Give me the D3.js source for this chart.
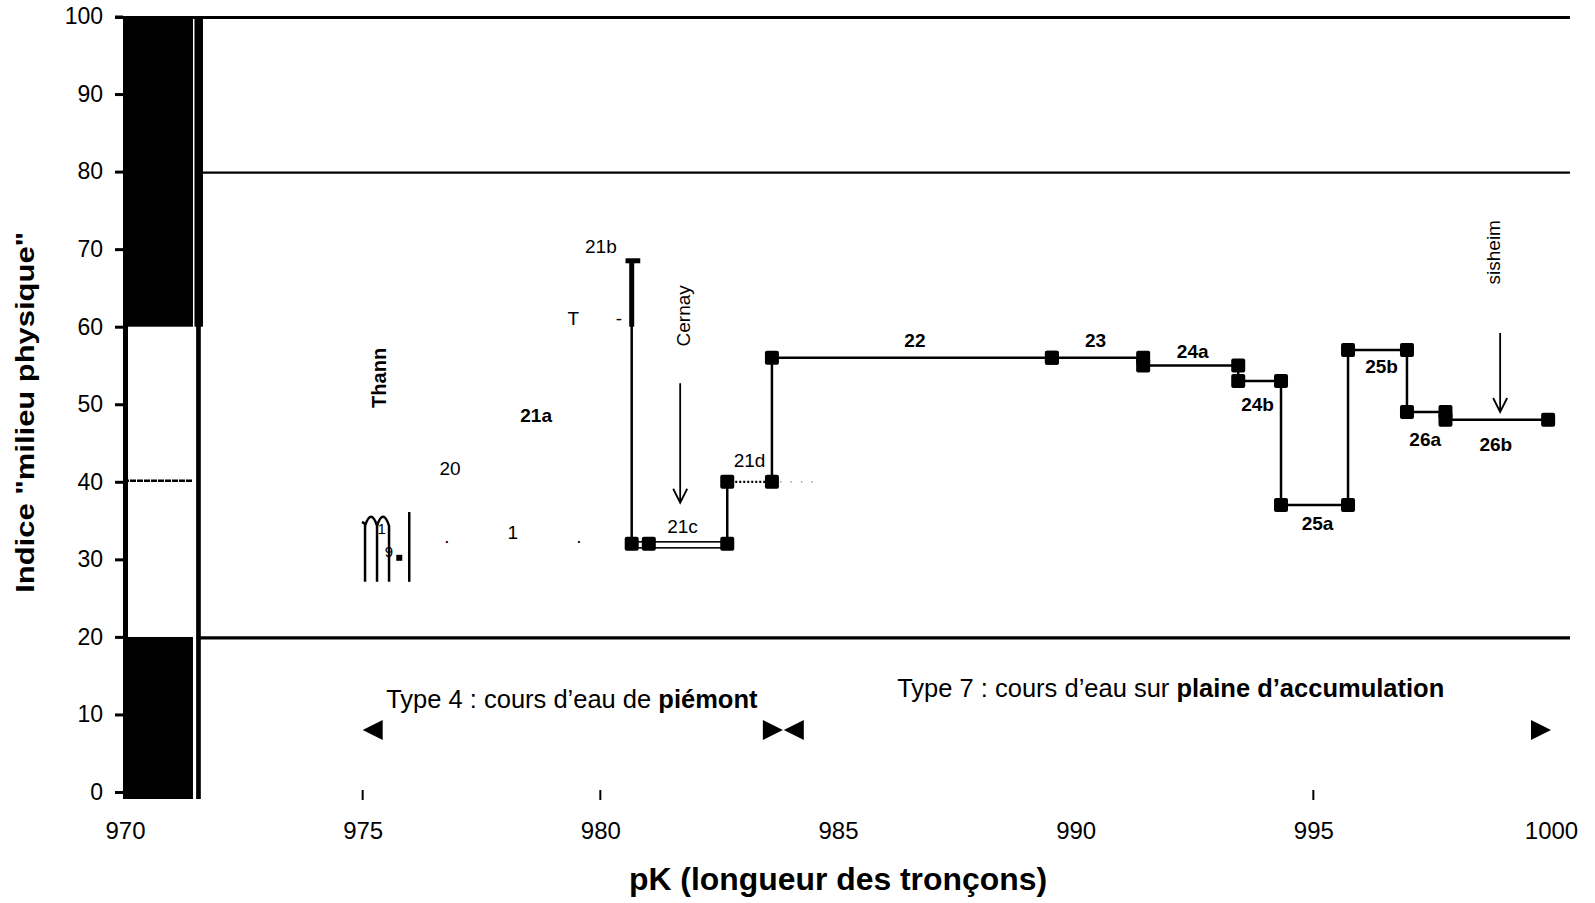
<!DOCTYPE html>
<html>
<head>
<meta charset="utf-8">
<script src="https://cdn.jsdelivr.net/npm/d3@7"></script>
<style>
    body { margin: 0; background: #fff; }
    svg text { font-family: "Liberation Sans", Arial, sans-serif; fill: #000; }
</style>
</head>
<body>
<div id="chart"></div>
<script>
// tronçons (pK de début / fin, indice "milieu physique")
const troncons = ["21b", "21c", "21d", "22", "23", "24a", "24b", "25a", "25b", "26a", "26b"]
const pkStart  = [980.53, 980.66, 982.67, 983.61, 989.50, 991.42, 993.42, 994.32, 995.73, 996.97, 997.78]
const pkEnd    = [980.84, 982.67, 983.61, 989.50, 991.42, 993.42, 994.32, 995.73, 996.97, 997.78, 999.94]
const indice   = [68.5, 32, 40, 56, 56, 55, 53, 37, 57, 49, 48]
// point supplémentaire sur 21c
const extraPk  = [981.02]
const extraVal = [32]

// axes
const xTicks = [970, 975, 980, 985, 990, 995, 1000]
const xTickMarks = [975, 980, 995]
const yTicks = [0, 10, 20, 30, 40, 50, 60, 70, 80, 90, 100]
const gridValues = [100, 80, 20]

// classes de qualité (bande de gauche)
const classLow  = [0, 20, 40, 60]
const classHigh = [20, 40, 60, 100]
const classDark = [true, false, false, true]

// typologie
const typeText  = ["Type 4 : cours d’eau de ", "Type 7 : cours d’eau sur "]
const typeBold  = ["piémont", "plaine d’accumulation"]
const typeStart = [975, 983.86]
const typeEnd   = [983.84, 1000]
const typeLabelPk  = [979.4, 992.0]
const typeLabelVal = [12.0, 13.4]
const arrowLevel = 8

// villes
const towns   = ["Thann", "Cernay", "sisheim"]
const townPk  = [975.35, 981.74, 998.80]
const townVal = [53.4, 61.4, 69.6]
const townArrowPk   = [null, 981.68, 998.93]
const townArrowTop  = [null, 52.7, 59.2]
const townArrowDown = [null, 37.3, 49.0]

// fragments de la partie amont (illisibles)
const scraps   = ["21a", "20", "1", "T", "-", "1", "9", ".", "."]
const scrapPk  = [978.65, 976.84, 978.16, 979.43, 980.39, 975.40, 975.55, 976.77, 979.55]
const scrapVal = [48.6, 41.7, 33.5, 61.0, 61.0, 34.0, 31.0, 32.9, 32.9]

const width = 1595
const height = 903

const x = d3.scaleLinear().domain([970, 1000]).range([125, 1551])
const y = d3.scaleLinear().domain([0, 100]).range([792, 16.5])

const svg = d3.select("#chart")
    .append("svg")
    .attr("width", width)
    .attr("height", height)

svg.append("rect").attr("width", width).attr("height", height).attr("fill", "#fff")

// ---- bande de gauche
const bandX0 = x(970) - 2
const bandX1 = x(971.43)
const lineX = bandX1 + 5.5
const bottom = y(0) + 7

svg.append("g").attr("class", "band")
    .selectAll("rect")
    .data(classLow.map((lo, i) => ({lo, hi: classHigh[i], dark: classDark[i]})))
    .join("rect")
    .attr("x", bandX0)
    .attr("width", bandX1 - bandX0)
    .attr("y", d => y(d.hi))
    .attr("height", d => (d.lo === 0 ? bottom : y(d.lo)) - y(d.hi))
    .attr("fill", d => d.dark ? "#000" : "#fff")

svg.append("line")
    .attr("x1", bandX0 + 2.5).attr("x2", bandX0 + 2.5)
    .attr("y1", y(100)).attr("y2", bottom)
    .attr("stroke", "#000").attr("stroke-width", 5)

svg.append("line")
    .attr("x1", bandX0).attr("x2", bandX1)
    .attr("y1", y(40) - 1).attr("y2", y(40) - 1)
    .attr("stroke", "#000").attr("stroke-width", 2.4)
    .attr("stroke-dasharray", "6,1")

svg.append("line")
    .attr("x1", lineX).attr("x2", lineX)
    .attr("y1", y(100)).attr("y2", bottom)
    .attr("stroke", "#000").attr("stroke-width", 4.7)

svg.append("rect")
    .attr("x", lineX - 4).attr("width", 8.5)
    .attr("y", y(100)).attr("height", y(60) - y(100))
    .attr("fill", "#000")

// ---- lignes de seuil
svg.append("g").attr("class", "grid")
    .selectAll("line")
    .data(gridValues)
    .join("line")
    .attr("x1", d => d === 100 ? x(970) - 10 : lineX)
    .attr("x2", x(1000.4))
    .attr("y1", d => y(d) + 1)
    .attr("y2", d => y(d) + 1)
    .attr("stroke", "#000")
    .attr("stroke-width", d => d === 80 ? 2.2 : 3.2)

// ---- axes
const yAxis = svg.append("g")
    .attr("transform", `translate(${bandX0},0)`)
    .call(d3.axisLeft(y).tickValues(yTicks).tickSize(8).tickPadding(12))
yAxis.select(".domain").remove()
yAxis.selectAll(".tick line").attr("stroke", "#000").attr("stroke-width", 3)
yAxis.selectAll(".tick text")
    .attr("font-family", "Liberation Sans, Arial, sans-serif")
    .attr("font-size", 23).attr("fill", "#000")

const xAxis = svg.append("g")
    .attr("transform", `translate(0,${y(0)})`)
    .call(d3.axisBottom(x).tickValues(xTicks).tickSize(0).tickPadding(30).tickFormat(d3.format("d")))
xAxis.select(".domain").remove()
xAxis.selectAll(".tick text")
    .attr("font-family", "Liberation Sans, Arial, sans-serif")
    .attr("font-size", 24).attr("fill", "#000")

svg.append("g").attr("class", "xmarks")
    .selectAll("line")
    .data(xTickMarks)
    .join("line")
    .attr("x1", d => x(d)).attr("x2", d => x(d))
    .attr("y1", y(0) - 2).attr("y2", y(0) + 8)
    .attr("stroke", "#000").attr("stroke-width", 2)

// ---- titres
svg.append("text")
    .attr("transform", `translate(34,${(y(100) + y(0)) / 2 + 8}) rotate(-90)`)
    .attr("text-anchor", "middle")
    .attr("font-size", 26)
    .attr("font-weight", "bold")
    .attr("textLength", 361)
    .attr("lengthAdjust", "spacingAndGlyphs")
    .text("Indice \"milieu physique\"")

svg.append("text")
    .attr("x", (x(970) + x(1000)) / 2)
    .attr("y", 890)
    .attr("text-anchor", "middle")
    .attr("font-size", 31)
    .attr("font-weight", "bold")
    .attr("textLength", 418)
    .attr("lengthAdjust", "spacingAndGlyphs")
    .text("pK (longueur des tronçons)")

// ---- série
const segments = troncons.map((name, i) => ({name, x0: pkStart[i], x1: pkEnd[i], v: indice[i]}))
const segStyle = {"21b": "cap", "21c": "double", "21d": "dotted"}

const serie = svg.append("g").attr("class", "serie")

// liaisons verticales
serie.selectAll("line.link")
    .data(segments.slice(1).map((d, i) => ({x: d.x0, from: segments[i].v, to: d.v})))
    .join("line")
    .attr("class", "link")
    .attr("x1", d => x(d.x)).attr("x2", d => x(d.x))
    .attr("y1", d => y(d.from)).attr("y2", d => y(d.to))
    .attr("stroke", "#000").attr("stroke-width", 2.5)

serie.append("line")
    .attr("x1", x(pkStart[1])).attr("x2", x(pkStart[1]))
    .attr("y1", y(indice[0])).attr("y2", y(60))
    .attr("stroke", "#000").attr("stroke-width", 5)

// paliers
serie.selectAll("line.seg")
    .data(segments.filter(d => segStyle[d.name] !== "double"))
    .join("line")
    .attr("class", "seg")
    .attr("x1", d => x(d.x0)).attr("x2", d => x(d.x1))
    .attr("y1", d => y(d.v)).attr("y2", d => y(d.v))
    .attr("stroke", "#000")
    .attr("stroke-width", d => segStyle[d.name] === "cap" ? 5 : segStyle[d.name] === "dotted" ? 2.2 : 2.5)
    .attr("stroke-dasharray", d => segStyle[d.name] === "dotted" ? "2,2" : null)

serie.selectAll("rect.double")
    .data(segments.filter(d => segStyle[d.name] === "double"))
    .join("rect")
    .attr("class", "double")
    .attr("x", d => x(d.x0)).attr("width", d => x(d.x1) - x(d.x0))
    .attr("y", d => y(d.v) - 2).attr("height", 6)
    .attr("fill", "#fff").attr("stroke", "#000").attr("stroke-width", 1.6)

serie.append("line")
    .attr("x1", x(pkEnd[2]) + 8).attr("x2", x(984.5))
    .attr("y1", y(indice[2])).attr("y2", y(indice[2]))
    .attr("stroke", "#888").attr("stroke-width", 1.2)
    .attr("stroke-dasharray", "1.5,9")

// marqueurs
const markers = segments.filter(d => segStyle[d.name] !== "cap")
    .flatMap(d => [{pk: d.x0, v: d.v}, {pk: d.x1, v: d.v}])
    .concat(extraPk.map((pk, i) => ({pk, v: extraVal[i]})))

const ms = 14
serie.selectAll("rect.marker")
    .data(markers)
    .join("rect")
    .attr("class", "marker")
    .attr("x", d => x(d.pk) - ms / 2).attr("y", d => y(d.v) - ms / 2)
    .attr("width", ms).attr("height", ms)
    .attr("rx", 2)
    .attr("fill", "#000")

// étiquettes des tronçons
const labelShift = {
    "21b": [-32, -14], "21c": [3, -17], "21d": [0, -21], "22": [3, -17], "23": [-2, -17],
    "24a": [2, -14], "24b": [-2, 24], "25a": [3, 18], "25b": [4, 17], "26a": [-1, 27], "26b": [-1, 24.5]
}
serie.selectAll("text.lab")
    .data(segments)
    .join("text")
    .attr("class", "lab")
    .attr("x", d => x((d.x0 + d.x1) / 2) + labelShift[d.name][0])
    .attr("y", d => y(d.v) + labelShift[d.name][1])
    .attr("text-anchor", "middle")
    .attr("dominant-baseline", "central")
    .attr("font-size", 19)
    .attr("font-weight", d => d.name.startsWith("21") ? "normal" : "bold")
    .text(d => d.name)

// ---- fragments amont
svg.append("g").attr("class", "scraps")
    .selectAll("text")
    .data(scraps.map((t, i) => ({t, pk: scrapPk[i], v: scrapVal[i], i})))
    .join("text")
    .attr("x", d => x(d.pk)).attr("y", d => y(d.v))
    .attr("text-anchor", "middle")
    .attr("dominant-baseline", "central")
    .attr("font-size", d => d.i >= 5 && d.i <= 6 ? 15 : 19)
    .attr("font-weight", d => d.t === "21a" ? "bold" : "normal")
    .text(d => d.t)

const mx = x(975.05)
const my = y(27.1)
const mp = d3.path()
mp.moveTo(mx - 3, my - 60); mp.lineTo(mx, my - 58); mp.lineTo(mx, my)
mp.moveTo(mx, my - 56); mp.quadraticCurveTo(mx + 6, my - 74, mx + 12, my - 56); mp.lineTo(mx + 12, my)
mp.moveTo(mx + 12, my - 56); mp.quadraticCurveTo(mx + 18, my - 74, mx + 24, my - 56); mp.lineTo(mx + 24, my)
svg.append("path").attr("d", mp.toString())
    .attr("fill", "none").attr("stroke", "#000").attr("stroke-width", 2.5)

svg.append("line")
    .attr("x1", x(975.98)).attr("x2", x(975.98))
    .attr("y1", y(36.1)).attr("y2", y(27.1))
    .attr("stroke", "#000").attr("stroke-width", 2.5)
svg.append("rect")
    .attr("x", x(975.77) - 3).attr("y", y(30.2) - 3)
    .attr("width", 6).attr("height", 6).attr("fill", "#000")

// ---- villes
svg.append("g").attr("class", "towns")
    .selectAll("text")
    .data(towns.map((t, i) => ({t, pk: townPk[i], v: townVal[i], i})))
    .join("text")
    .attr("transform", d => `translate(${x(d.pk)},${y(d.v)}) rotate(-90)`)
    .attr("text-anchor", "middle")
    .attr("dominant-baseline", "central")
    .attr("font-size", d => d.i === 0 ? 20 : 19)
    .attr("font-weight", d => d.i === 0 ? "bold" : "normal")
    .text(d => d.t)

const arrows = towns.map((t, i) => ({pk: townArrowPk[i], top: townArrowTop[i], down: townArrowDown[i]}))
    .filter(d => d.pk !== null)
const ag = svg.append("g").attr("class", "town-arrows")
ag.selectAll("path")
    .data(arrows)
    .join("path")
    .attr("d", d => {
        const p = d3.path()
        const ax = x(d.pk), ay = y(d.down)
        p.moveTo(ax, y(d.top)); p.lineTo(ax, ay)
        p.moveTo(ax - 7, ay - 14); p.lineTo(ax, ay); p.lineTo(ax + 7, ay - 14)
        return p.toString()
    })
    .attr("fill", "none").attr("stroke", "#000").attr("stroke-width", 1.8)

// ---- typologie
const tri = (tipX, tipY, dir) => {
    const p = d3.path()
    p.moveTo(tipX, tipY)
    p.lineTo(tipX - dir * 20, tipY - 10)
    p.lineTo(tipX - dir * 20, tipY + 10)
    p.closePath()
    return p.toString()
}

const types = typeText.map((t, i) => ({t, b: typeBold[i], x0: typeStart[i], x1: typeEnd[i], lpk: typeLabelPk[i], lv: typeLabelVal[i]}))
const tg = svg.append("g").attr("class", "types")
tg.selectAll("path")
    .data(types.flatMap(d => [{pk: d.x0, dir: -1}, {pk: d.x1, dir: 1}]))
    .join("path")
    .attr("d", d => tri(x(d.pk), y(arrowLevel), d.dir))
    .attr("fill", "#000")

const tl = tg.selectAll("text")
    .data(types)
    .join("text")
    .attr("x", d => x(d.lpk))
    .attr("y", d => y(d.lv))
    .attr("text-anchor", "middle")
    .attr("dominant-baseline", "central")
    .attr("font-size", 25.5)
tl.append("tspan").text(d => d.t)
tl.append("tspan").attr("font-weight", "bold").text(d => d.b)
</script>
</body>
</html>
